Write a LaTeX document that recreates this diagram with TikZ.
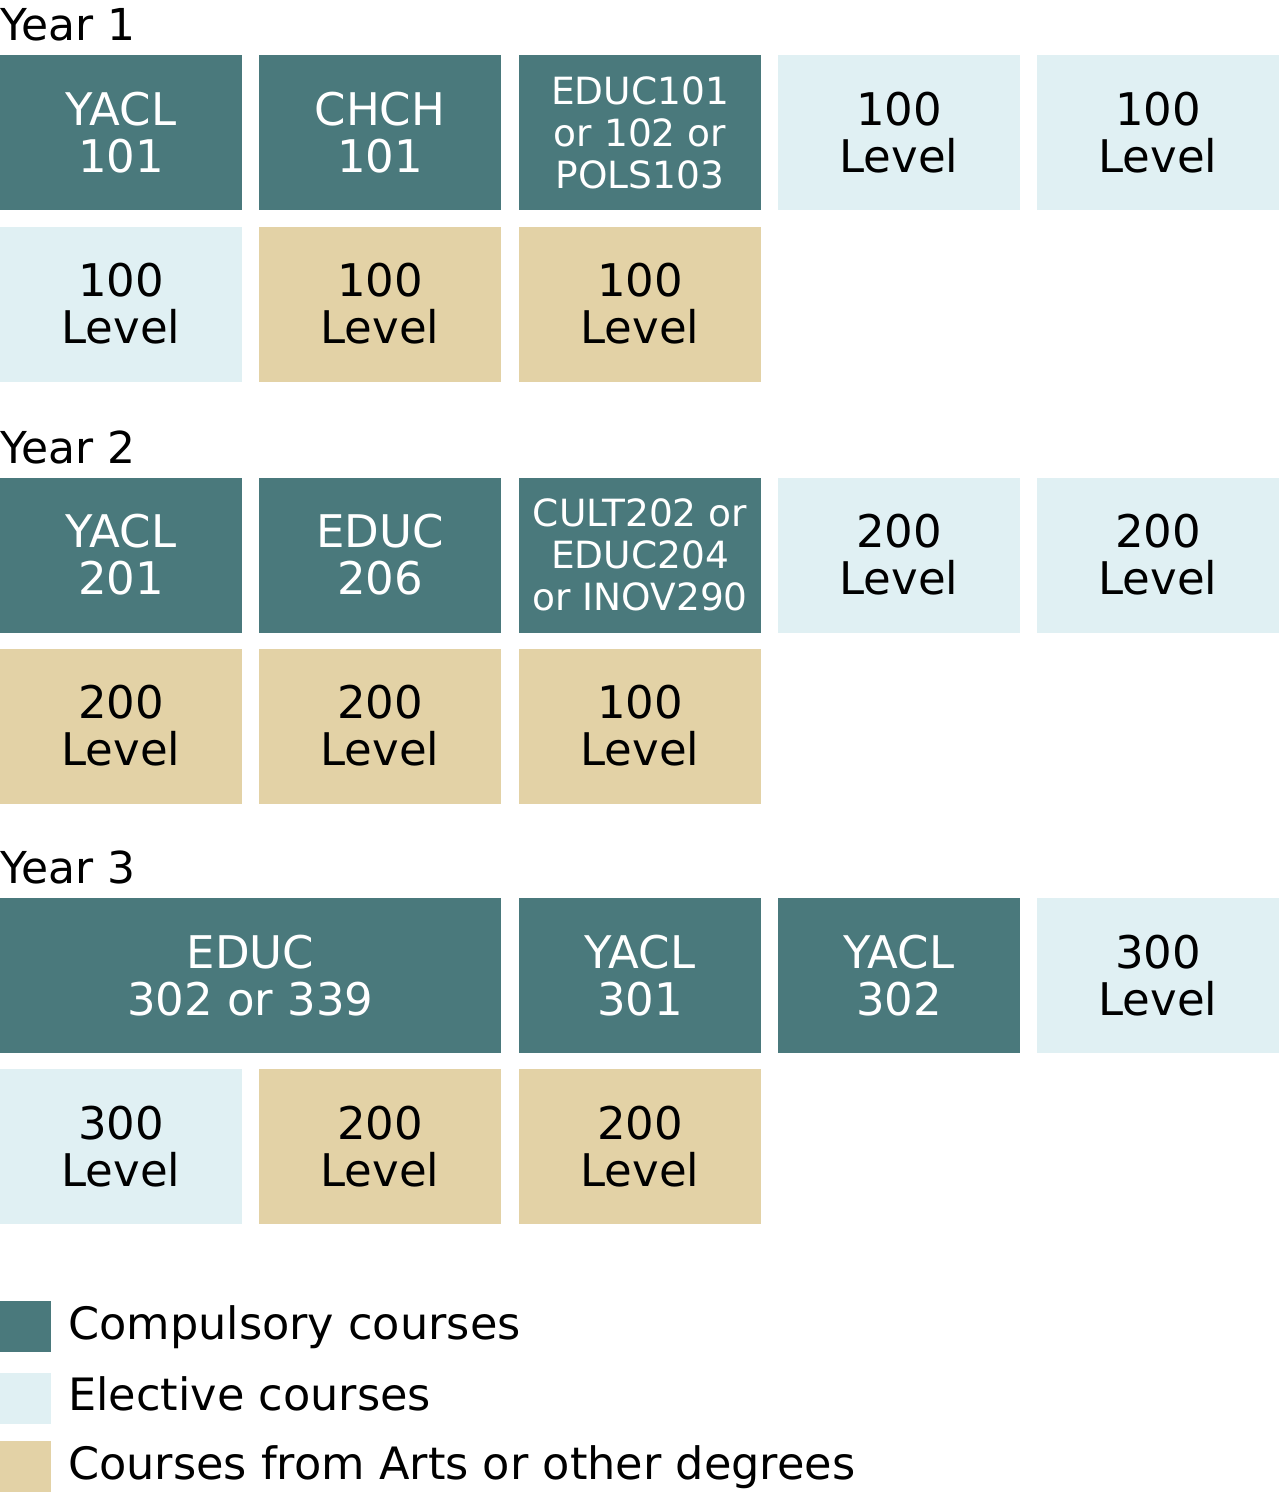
\documentclass[tikz,border=0pt]{standalone}
\usepackage{fontspec}
\setmainfont{DejaVu Sans}
\definecolor{teal}{HTML}{4A797C}
\definecolor{elec}{HTML}{E0F0F3}
\definecolor{arts}{HTML}{E3D2A6}
\begin{document}
\begin{tikzpicture}[x=1pt,y=-1pt,
  box/.style={minimum width=242pt,minimum height=155pt,inner sep=0pt,align=center,
    font=\fontsize{45}{47}\selectfont},
  comp/.style={box,fill=teal,text=white},
  elecbox/.style={box,fill=elec,text=black},
  artsbox/.style={box,fill=arts,text=black},
  small/.style={font=\fontsize{37.5}{42}\selectfont},
  yearlbl/.style={anchor=base west,inner sep=0pt,font=\fontsize{44}{50}\selectfont},
  legsq/.style={minimum width=51pt,minimum height=51pt,inner sep=0pt,anchor=north west},
  legtxt/.style={anchor=base west,inner sep=0pt,font=\fontsize{44.6}{50}\selectfont}]
\useasboundingbox (0,0) rectangle (1280,1494);
% column centres: 121, 380, 640, 899, 1158
% Year 1
\node[yearlbl] (y1) at (0,40) {Year 1};
\node[comp] (a1) at (121,132.5) {YACL\\101};
\node[comp] (a2) at (380,132.5) {CHCH\\101};
\node[comp,small] (a3) at (640,132.5) {EDUC101\\or 102 or\\POLS103};
\node[elecbox] (a4) at (899,132.5) {100\\Level};
\node[elecbox] (a5) at (1158,132.5) {100\\Level};
\node[elecbox] (b1) at (121,304) {100\\Level};
\node[artsbox] (b2) at (380,304) {100\\Level};
\node[artsbox] (b3) at (640,304) {100\\Level};
% Year 2
\node[yearlbl] (y2) at (0,463) {Year 2};
\node[comp] (c1) at (121,555) {YACL\\201};
\node[comp] (c2) at (380,555) {EDUC\\206};
\node[comp,small] (c3) at (640,555) {CULT202 or\\EDUC204\\or INOV290};
\node[elecbox] (c4) at (899,555) {200\\Level};
\node[elecbox] (c5) at (1158,555) {200\\Level};
\node[artsbox] (d1) at (121,726) {200\\Level};
\node[artsbox] (d2) at (380,726) {200\\Level};
\node[artsbox] (d3) at (640,726) {100\\Level};
% Year 3
\node[yearlbl] (y3) at (0,883) {Year 3};
\node[comp,minimum width=501pt] (e1) at (250.5,975.5) {EDUC\\302 or 339};
\node[comp] (e2) at (640,975.5) {YACL\\301};
\node[comp] (e3) at (899,975.5) {YACL\\302};
\node[elecbox] (e4) at (1158,975.5) {300\\Level};
\node[elecbox] (f1) at (121,1146.5) {300\\Level};
\node[artsbox] (f2) at (380,1146.5) {200\\Level};
\node[artsbox] (f3) at (640,1146.5) {200\\Level};
% Legend
\node[legsq,fill=teal] (l1) at (0,1301) {};
\node[legsq,fill=elec] (l2) at (0,1373) {};
\node[legsq,fill=arts] (l3) at (0,1441) {};
\node[legtxt] (t1) at (68,1339) {Compulsory courses};
\node[legtxt] (t2) at (68,1410) {Elective courses};
\node[legtxt] (t3) at (68,1479) {Courses from Arts or other degrees};
\end{tikzpicture}
\end{document}
